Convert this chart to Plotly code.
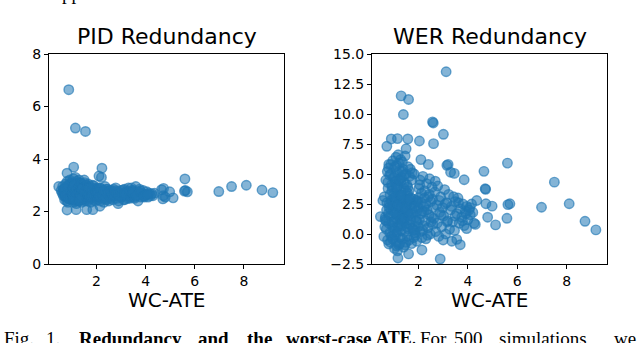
import plotly.graph_objects as go

# ---- data ----
wc_ate = [
    0.87, 1.14, 1.55, 1.07, 2.22, 0.80, 5.60, 5.62, 5.70, 5.58, 6.98, 7.50, 8.10, 8.74, 9.18,
    0.80, 1.17, 1.60, 1.85, 4.65, 4.70, 4.73, 5.12, 4.98, 0.46, 0.56, 3.12, 1.30, 1.60, 1.39,
    2.57, 2.60, 3.01, 2.61, 2.04, 1.57, 0.90, 1.15, 0.72, 1.50, 2.10, 2.40, 3.15, 3.20, 3.30,
    3.45, 3.85, 4.72, 4.36, 4.80, 3.95, 4.30, 2.88, 2.14, 3.69, 3.35, 3.55, 0.60,
    0.62, 0.65, 0.68, 0.70, 0.72, 0.74, 0.75, 0.77, 0.78, 0.80, 0.81, 0.83, 0.84, 0.85, 0.86,
    0.88, 0.89, 0.90, 0.91, 0.92, 0.93, 0.94, 0.95, 0.96, 0.97, 0.98, 0.99, 1.00, 0.66, 0.71,
    0.79, 0.87, 0.93, 0.97, 0.64, 0.69, 0.76, 0.82, 0.88, 0.95,
    1.01, 1.02, 1.03, 1.04, 1.05, 1.06, 1.07, 1.08, 1.09, 1.10, 1.11, 1.12, 1.13, 1.14, 1.15,
    1.16, 1.17, 1.18, 1.19, 1.20, 1.21, 1.22, 1.23, 1.24, 1.25, 1.26, 1.27, 1.28, 1.29, 1.30,
    1.02, 1.05, 1.08, 1.11, 1.14, 1.17, 1.20, 1.23, 1.26, 1.29, 1.03, 1.06, 1.09, 1.12, 1.15,
    1.18, 1.21, 1.24, 1.27, 1.30,
    1.31, 1.32, 1.33, 1.34, 1.35, 1.36, 1.37, 1.38, 1.39, 1.40, 1.41, 1.42, 1.43, 1.44, 1.45,
    1.46, 1.47, 1.48, 1.49, 1.50, 1.51, 1.52, 1.53, 1.54, 1.55, 1.56, 1.57, 1.58, 1.59, 1.60,
    1.33, 1.37, 1.41, 1.45, 1.49, 1.53, 1.57, 1.35, 1.43, 1.51,
    1.61, 1.62, 1.63, 1.64, 1.65, 1.66, 1.67, 1.68, 1.70, 1.72, 1.73, 1.75, 1.76, 1.78, 1.80,
    1.81, 1.83, 1.85, 1.86, 1.88, 1.90, 1.91, 1.93, 1.95, 1.96, 1.98, 2.00, 1.64, 1.69, 1.74,
    1.79, 1.84, 1.89, 1.94, 1.99,
    2.02, 2.04, 2.06, 2.08, 2.10, 2.12, 2.14, 2.16, 2.18, 2.20, 2.23, 2.25, 2.28, 2.30, 2.33,
    2.35, 2.38, 2.40, 2.43, 2.45, 2.48, 2.50, 2.53, 2.55, 2.58, 2.60, 2.05, 2.11, 2.17, 2.24,
    2.31, 2.37, 2.44, 2.51, 2.57,
    2.62, 2.66, 2.70, 2.74, 2.78, 2.82, 2.86, 2.90, 2.94, 2.98, 3.02, 3.06, 3.10, 3.14, 3.18,
    3.22, 3.26, 3.30, 2.68, 2.76, 2.84, 2.92, 3.00, 3.08, 3.16,
    3.34, 3.38, 3.42, 3.46, 3.50, 3.55, 3.60, 3.65, 3.70, 3.75, 3.80, 3.85, 3.90, 3.95, 4.00,
    4.05, 4.10, 4.15, 4.20, 4.25, 3.48, 3.62, 3.78, 3.92, 4.08,
]

pid_redundancy = [
    6.64, 5.18, 5.05, 3.69, 3.65, 3.46, 3.24, 2.80, 2.75, 2.78, 2.76, 2.95, 3.00, 2.82, 2.72,
    2.06, 2.07, 2.07, 2.07, 2.83, 2.48, 2.88, 2.52, 2.75, 2.95, 2.80, 2.70, 3.10, 2.95, 2.60,
    2.75, 2.65, 2.55, 2.80, 2.90, 3.00, 2.85, 2.70, 2.75, 3.20, 2.60, 2.85, 2.45, 2.75, 2.60,
    2.80, 2.65, 2.60, 2.70, 2.55, 2.55, 2.60, 2.30, 2.20, 2.40, 2.50, 2.55, 2.70,
    2.95, 2.60, 2.85, 2.45, 2.75, 3.05, 2.55, 2.90, 2.40, 2.70, 3.15, 2.65, 2.35, 2.80, 3.00,
    2.50, 2.95, 2.70, 3.20, 2.60, 2.85, 2.45, 3.10, 2.75, 2.55, 2.90, 2.65, 3.05, 2.72, 2.58,
    2.82, 2.48, 2.68, 2.92, 2.78, 2.88, 2.62, 2.98, 2.52, 2.76,
    2.70, 3.10, 2.45, 2.85, 2.60, 3.25, 2.35, 2.95, 2.75, 2.55, 3.00, 2.40, 2.80, 3.30, 2.65,
    2.50, 2.90, 2.30, 3.15, 2.70, 2.45, 2.85, 2.60, 3.05, 2.55, 2.75, 2.95, 2.40, 3.20, 2.65,
    2.78, 2.52, 2.88, 2.62, 2.98, 2.44, 2.72, 3.08, 2.58, 2.84, 2.66, 2.92, 2.48, 3.02, 2.74,
    2.56, 2.86, 2.68, 2.42, 2.96,
    2.60, 2.95, 2.40, 2.80, 3.10, 2.55, 2.70, 2.90, 2.35, 3.05, 2.65, 2.50, 2.85, 2.75, 3.00,
    2.45, 2.60, 2.95, 2.70, 2.55, 2.85, 3.10, 2.40, 2.75, 2.65, 2.90, 2.50, 2.80, 3.00, 2.60,
    2.72, 2.62, 2.82, 2.58, 2.92, 2.68, 2.78, 2.48, 2.88, 2.74,
    2.75, 2.50, 2.90, 2.40, 2.65, 3.05, 2.55, 2.80, 2.45, 2.70, 2.95, 2.60, 2.35, 2.85, 2.55,
    2.75, 3.00, 2.50, 2.65, 2.90, 2.45, 2.70, 2.80, 2.40, 2.60, 2.85, 2.75, 2.68, 2.88, 2.52,
    2.78, 2.62, 2.98, 2.58, 2.72,
    2.60, 2.85, 2.45, 2.70, 3.35, 2.55, 2.90, 2.40, 2.75, 3.30, 2.65, 2.50, 2.80, 2.35, 2.70,
    2.95, 2.55, 2.75, 2.45, 2.85, 2.60, 2.40, 2.70, 2.80, 2.50, 2.65, 2.72, 2.58, 2.88, 2.62,
    2.78, 2.48, 2.68, 2.74, 2.56,
    2.70, 2.45, 2.85, 2.60, 2.90, 2.50, 2.75, 2.40, 2.65, 2.80, 2.55, 2.70, 2.45, 2.85, 2.60,
    2.75, 2.50, 2.90, 2.62, 2.78, 2.68, 2.58, 2.72, 2.82, 2.66,
    2.75, 2.55, 2.90, 2.65, 2.80, 2.50, 2.95, 2.60, 2.75, 2.85, 2.55, 2.70, 2.80, 2.60, 2.65,
    2.75, 2.55, 2.70, 2.60, 2.68, 2.72, 2.62, 2.78, 2.58, 2.66,
]

wer_redundancy = [
    2.10, 1.50, 3.20, 4.40, 1.90, 5.80, 5.91, 2.45, 2.52, 1.31, 2.23, 4.32, 2.52, 1.06, 0.34,
    -0.83, -2.00, -1.66, 0.30, 5.22, 3.77, 2.52, 0.76, 2.32, 1.45, 2.79, 13.52, 11.51, 11.21, 9.96,
    9.34, 9.25, 8.31, 7.53, 7.75, 7.92, 7.92, 7.95, 7.31, 7.10, 6.20, 5.80, 5.72, 5.80, 5.15,
    5.05, 4.52, 3.72, 2.79, 1.40, 0.45, 0.80, -2.08, -1.33, -0.89, -0.60, -0.45, -0.20,
    3.10, 1.20, 4.50, 0.40, 2.60, 5.20, -0.50, 3.80, 1.70, 0.90, 2.20, 4.90, 0.10, 3.30, 1.50,
    5.80, 2.80, -0.20, 4.10, 1.00, 3.60, 0.70, 2.40, 6.10, 1.90, 4.70, 0.20, 3.00, 1.40, 2.00,
    5.50, -0.70, 3.90, 2.70, 0.60, 1.10, 4.30, 2.50, 5.00, -0.40,
    0.50, 3.40, -1.20, 5.60, 1.80, 2.90, 4.20, -0.60, 6.40, 1.30, 3.70, 0.00, 2.30, 5.10, -1.40,
    4.00, 1.60, 6.60, 2.50, -0.90, 3.20, 0.80, 5.30, 1.90, 4.60, -0.30, 2.10, 6.20, 3.50, 0.30,
    1.00, 4.80, 2.70, -1.00, 3.90, 0.60, 5.90, 1.50, 2.80, 4.40, -0.10, 3.10, 1.70, 5.70, 0.20,
    2.40, 4.50, -0.80, 3.30, 1.20,
    2.20, 4.70, 0.70, 3.00, 6.00, -0.40, 1.60, 5.40, 2.60, -1.10, 3.80, 1.10, 4.30, 0.20, 2.90,
    6.50, 1.40, 3.60, -0.70, 5.00, 2.00, 0.90, 4.10, 2.50, -0.20, 3.40, 1.80, 5.60, 0.40, 2.70,
    3.20, 1.00, 4.90, -0.90, 2.30, 0.60, 3.90, 5.20, 1.30, 2.10,
    1.50, 3.60, -0.50, 4.80, 0.80, 2.40, 5.40, 1.20, 3.00, -0.80, 2.10, 5.10, 0.50, 1.80, 2.90,
    -0.30, 5.00, 2.60, 0.10, 1.40, 1.10, 2.80, -0.60, 1.00, 2.70, 0.60, 2.20, 2.90, 1.70, 4.50,
    0.30, 2.30, -0.10, 1.90, 3.00,
    3.80, 1.20, 4.50, 0.20, 2.60, 3.40, -0.30, 1.90, 4.80, 0.70, 2.30, 3.60, 1.10, -0.40, 4.20,
    2.00, 0.50, 3.10, 1.60, 4.60, 0.00, 2.70, 1.40, 3.90, 0.80, 2.20, 4.10, 1.70, 0.30, 3.00,
    2.50, -0.10, 3.30, 1.00, 2.90,
    1.30, 3.50, 0.20, 2.40, 4.00, -0.20, 1.80, 3.10, 0.60, 2.20, 1.50, 3.70, 0.00, 2.60, 1.10,
    3.30, 0.40, 2.00, 4.40, 0.90, 2.80, 1.60, -0.50, 2.50, 1.00,
    2.30, 1.00, 3.10, 0.30, 2.70, 1.70, 3.00, 0.90, 2.10, 1.40, 2.50, 0.70, 1.90, 2.30, 1.20,
    2.00, 1.60, 2.50, 1.80, 0.90, 1.50, 2.60, 1.10, 1.70, 2.20,
]

panel_titles = ["PID Redundancy", "WER Redundancy"]
x_label = "WC-ATE"
x_ticks = [2, 4, 6, 8]
pid_ticks = [0, 2, 4, 6, 8]
wer_ticks = [-2.5, 0.0, 2.5, 5.0, 7.5, 10.0, 12.5, 15.0]
wer_tick_text = ["\u22122.5", "0.0", "2.5", "5.0", "7.5", "10.0", "12.5", "15.0"]

caption_words = [
    ("Fig.", False), ("1.", False), ("Redundancy", True), ("and", True), ("the", True),
    ("worst-case", True), ("ATE", True), ("For", False), ("500", False),
    ("simulations,", False), ("we", False),
]
caption_x_px = [3, 45, 78, 197, 246, 285, 375, 419, 453, 498, 613]

# ---- figure ----
W, H = 640, 343
BLUE_FILL = "rgba(31,119,180,0.55)"
BLUE_LINE = "rgba(31,119,180,0.65)"

fig = go.Figure()
for i, yvals in enumerate([pid_redundancy, wer_redundancy]):
    fig.add_trace(go.Scatter(
        x=wc_ate, y=yvals, mode="markers",
        xaxis="x" if i == 0 else "x2", yaxis="y" if i == 0 else "y2",
        marker=dict(size=9.5, color=BLUE_FILL, line=dict(color=BLUE_LINE, width=1.4)),
        showlegend=False, hoverinfo="skip",
    ))

def px_x(p):
    return p / W

def px_y(p):
    return (H - p) / H

axis_common = dict(
    showgrid=False, zeroline=False, showline=True, linecolor="black", linewidth=1,
    mirror=True, ticks="outside", ticklen=4, tickwidth=1, tickcolor="black",
    tickfont=dict(family="DejaVu Sans", size=14, color="black"),
)

y_dom = [px_y(264), px_y(54)]
fig.update_layout(
    width=W, height=H, margin=dict(l=0, r=0, t=0, b=0, autoexpand=False),
    paper_bgcolor="white", plot_bgcolor="white",
    xaxis=dict(domain=[px_x(49), px_x(284)], range=[0.065, 9.635],
               tickvals=x_ticks, anchor="y", **axis_common),
    yaxis=dict(domain=y_dom, range=[0, 8], tickvals=pid_ticks, anchor="x", **axis_common),
    xaxis2=dict(domain=[px_x(372), px_x(607)], range=[0.12, 9.63],
                tickvals=x_ticks, anchor="y2", **axis_common),
    yaxis2=dict(domain=y_dom, range=[-2.5, 15], tickvals=wer_ticks, ticktext=wer_tick_text,
                anchor="x2", **axis_common),
)

ann = []
centers = [(49 + 284) / 2, (372 + 607) / 2]
for c, t in zip(centers, panel_titles):
    ann.append(dict(text=t, x=px_x(c), y=px_y(37), xref="paper", yref="paper",
                    xanchor="center", yanchor="middle", showarrow=False,
                    font=dict(family="DejaVu Sans", size=22, color="black")))
    ann.append(dict(text=x_label, x=px_x(c), y=px_y(300), xref="paper", yref="paper",
                    xanchor="center", yanchor="middle", showarrow=False,
                    font=dict(family="DejaVu Sans", size=20, color="black")))

for (w, bold), xp in zip(caption_words, caption_x_px):
    txt = f"<b>{w}</b>" if bold else w
    size = 19
    if w == "ATE":
        txt = "<b>ATE</b>."
        size = 18
    ann.append(dict(text=txt, x=px_x(xp), y=px_y(327), xref="paper", yref="paper",
                    xanchor="left", yanchor="top", showarrow=False, borderpad=0,
                    font=dict(family="Liberation Serif", size=size, color="black")))

# descenders of the line of text above the figure
ann.append(dict(text="pp", x=px_x(61), y=px_y(5), xref="paper", yref="paper",
                xanchor="left", yanchor="bottom", showarrow=False, borderpad=0,
                font=dict(family="Liberation Serif", size=19, color="black")))

fig.update_layout(annotations=ann)
fig.write_html(
    "out.html",
    config={"displayModeBar": False, "staticPlot": True},
    post_script="document.body.style.margin='0';document.body.style.overflow='hidden';",
)
